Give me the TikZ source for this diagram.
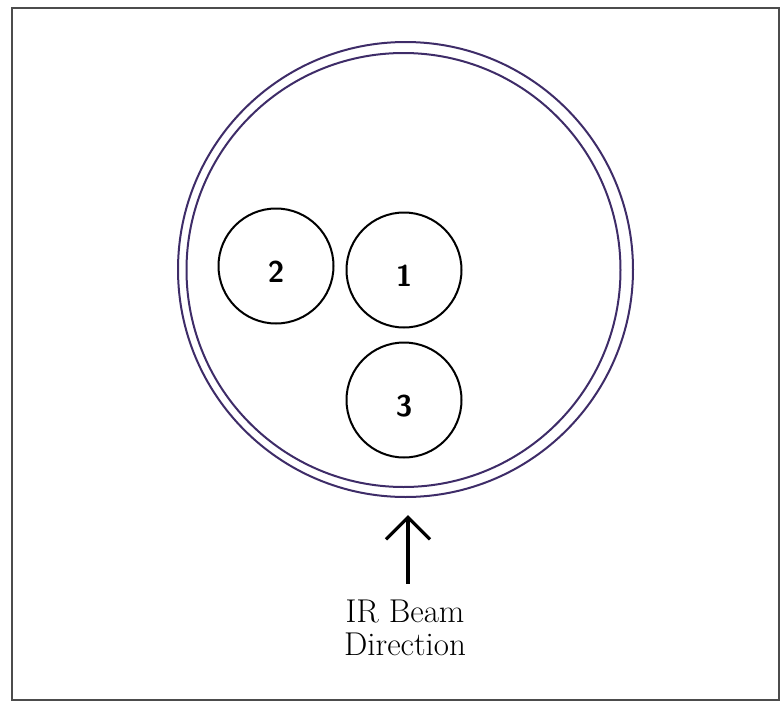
\documentclass[tikz,border=0pt]{standalone}
\usepackage{tikz}
\usetikzlibrary{arrows.meta,positioning}
\definecolor{ringcol}{RGB}{62,44,104}

\begin{document}
\begin{tikzpicture}[
  x=0.5pt,y=-0.5pt,
  ring/.style={circle,draw=ringcol,line width=1pt,inner sep=0pt},
  cup/.style={circle,draw,line width=1pt,inner sep=0pt,minimum size=57.5pt,
    label={[font=\fontsize{15}{15}\sffamily\bfseries,yshift=-3pt]center:#1}},
  ar/.style={-{Straight Barb[length=11pt,width=22pt]},line width=1.6pt,shorten <=8pt}
]
\useasboundingbox (0,0) rectangle (783,702);
\draw[black!70,line width=1.3pt] (12,8) rectangle (779,700);
% sample holder rings
\node[ring,minimum size=227.5pt] (outer) at (405.5,269.5) {};
\node[ring,minimum size=217pt] (inner) at (403.5,270) {};
% sample cups
\node[cup=2] (c2) at (276,266) {};
\node[cup=1] (c1) at (404,270) {};
\node[cup=3] (c3) at (404,400) {};
% beam label and arrow
\node[align=center,inner sep=0pt,font=\fontsize{16.5}{16.5}\selectfont] (beam) at (405,628) {IR Beam\\Direction};
\coordinate (tip) at (408,515);
\draw[ar] (beam.north -| tip) -- (tip);
\end{tikzpicture}
\end{document}
